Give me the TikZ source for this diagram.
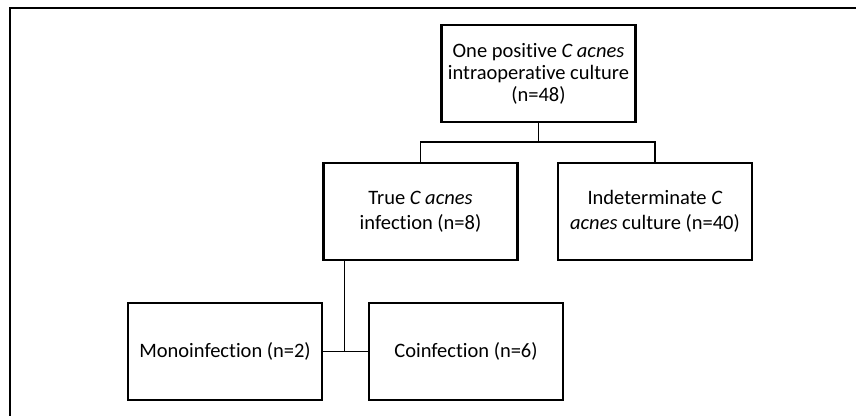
\documentclass[tikz,border=0pt]{standalone}
\usepackage{fontspec}
\setmainfont{Carlito}[Ligatures=NoCommon]
\begin{document}
\begin{tikzpicture}[
    x=1pt, y=-1pt,
    box/.style={draw, line width=2.4pt, minimum width=194pt,
                minimum height=97pt, align=center,
                font=\fontsize{20.5}{25}\selectfont},
    link/.style={draw, line width=1.5pt},
]
\useasboundingbox (0,0) rectangle (856,415);
% frame
\draw[line width=2.4pt] (10,416) -- (10,8) -- (857,8);

\node[box, font=\fontsize{20.5}{22}\selectfont] (total) at (538.5,73.5)
    {One positive \textit{C acnes}\\intraoperative culture\\(n=48)};
\node[box] (true) at (420.5,211.5) {True \textit{C acnes}\\infection (n=8)};
\node[box] (indet) at (655,211.5) {Indeterminate \textit{C}\\\textit{acnes} culture (n=40)};
\node[box] (mono) at (225,351.5) {Monoinfection (n=2)};
\node[box] (coinf) at (466,351.5) {Coinfection (n=6)};

% connectors
\coordinate (bus) at (total.south |- 0,142);
\draw[link] (total.south) -- (bus);
\draw[link] (true.north) |- (bus) -| (indet.north);
\coordinate (drop) at ([xshift=22pt]true.south west);
\draw[link] (drop) -- (drop |- mono.east);
\draw[link] (mono.east) -- (coinf.west);
\end{tikzpicture}
\end{document}
